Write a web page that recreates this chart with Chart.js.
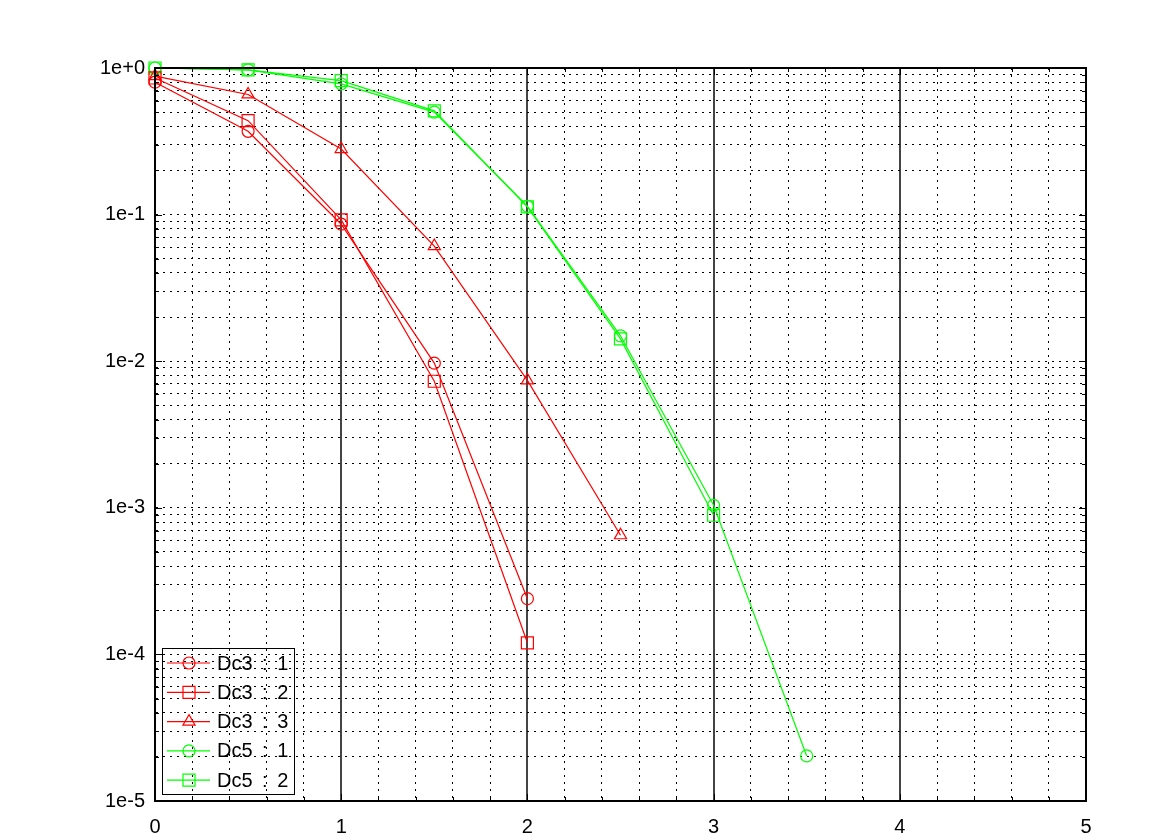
<!DOCTYPE html>
<html>
<head>
<meta charset="utf-8">
<script src="https://cdn.jsdelivr.net/npm/chart.js@4"></script>
<style>
  html, body { margin: 0; padding: 0; background: #fff; }
  #wrap { width: 1175px; height: 835px; }
</style>
</head>
<body>
<div id="wrap"><canvas id="ber"></canvas></div>
<script>
// series values
const xDc3 = [0, 0.5, 1, 1.5, 2];
const xDc3b = [0, 0.5, 1, 1.5, 2, 2.5];
const xDc5a = [0, 0.5, 1, 1.5, 2, 2.5, 3, 3.5];
const xDc5b = [0, 0.5, 1, 1.5, 2, 2.5, 3];

const dc3_1 = [0.80, 0.37, 0.086, 0.0097, 2.4e-4];
const dc3_2 = [0.855, 0.437, 0.092, 0.0073, 1.2e-4];
const dc3_3 = [0.88, 0.66, 0.28, 0.061, 0.0074, 6.5e-4];
const dc5_1 = [1.0, 0.97, 0.78, 0.50, 0.114, 0.0149, 1.04e-3, 2.03e-5];
const dc5_2 = [1.0, 0.97, 0.82, 0.51, 0.113, 0.0142, 8.9e-4];

const seriesNames = ['Dc3 : 1', 'Dc3 : 2', 'Dc3 : 3', 'Dc5 : 1', 'Dc5 : 2'];
const xTickLabels = ['0', '1', '2', '3', '4', '5'];
const yTickLabels = ['1e-5', '1e-4', '1e-3', '1e-2', '1e-1', '1e+0'];

const RED = 'rgb(255,0,0)';
const GREEN = 'rgb(0,255,0)';
const FONT = '"Liberation Sans", Arial, sans-serif';

function pts(xs, ys) {
  return xs.map((x, i) => ({ x: x, y: ys[i] }));
}

function ds(label, xs, ys, color, style, r) {
  return {
    label: label,
    data: pts(xs, ys),
    borderColor: color,
    borderWidth: 1.2,
    pointStyle: style,
    pointRadius: r,
    pointBorderColor: color,
    pointBackgroundColor: 'rgba(0,0,0,0)',
    pointBorderWidth: 1.2,
    tension: 0,
    fill: false,
    clip: false
  };
}

const isMajorX = v => Math.abs(v - Math.round(v)) < 1e-6;
const isDecade = v => Math.abs(Math.log10(v) - Math.round(Math.log10(v))) < 1e-6;

// draws the box round the plot, the small inward ticks and the legend
const framePlugin = {
  id: 'frame',
  afterDatasetsDraw(chart) {
    const { ctx, chartArea: a, scales } = chart;
    ctx.save();
    ctx.strokeStyle = '#000';
    ctx.lineWidth = 1;
    ctx.setLineDash([]);
    scales.y.ticks.forEach(t => {
      const py = Math.round(scales.y.getPixelForValue(t.value)) + 0.5;
      const len = isDecade(t.value) ? 7 : 4;
      ctx.beginPath();
      ctx.moveTo(a.left, py); ctx.lineTo(a.left + len, py);
      ctx.moveTo(a.right, py); ctx.lineTo(a.right - len, py);
      ctx.stroke();
    });
    scales.x.ticks.forEach(t => {
      const px = Math.round(scales.x.getPixelForValue(t.value)) + 0.5;
      const len = isMajorX(t.value) ? 7 : 4;
      ctx.beginPath();
      ctx.moveTo(px, a.bottom); ctx.lineTo(px, a.bottom - len);
      ctx.moveTo(px, a.top); ctx.lineTo(px, a.top + len);
      ctx.stroke();
    });
    ctx.lineWidth = 2;
    ctx.strokeRect(a.left, a.top, a.right - a.left, a.bottom - a.top);

    // legend box in the lower left corner
    const bx = a.left + 7, by = a.bottom - 153, bw = 132, bh = 146;
    ctx.lineWidth = 1;
    ctx.strokeRect(bx + 0.5, by + 0.5, bw, bh);
    ctx.font = '20px ' + FONT;
    ctx.textBaseline = 'middle';
    if ('wordSpacing' in ctx) ctx.wordSpacing = '4px';
    chart.data.datasets.forEach((d, i) => {
      const cy = by + 15 + i * 29.3;
      ctx.strokeStyle = d.borderColor;
      ctx.lineWidth = 1.2;
      ctx.beginPath();
      ctx.moveTo(bx + 5, cy); ctx.lineTo(bx + 48, cy);
      ctx.stroke();
      ctx.fillStyle = 'rgba(0,0,0,0)';
      Chart.helpers.drawPoint(ctx, {
        pointStyle: d.pointStyle, radius: d.pointRadius, borderWidth: 1.2, rotation: 0
      }, bx + 27, cy);
      ctx.fillStyle = '#000';
      ctx.fillText(d.label, bx + 55, cy + 1);
    });
    ctx.restore();
  }
};

new Chart(document.getElementById('ber'), {
  type: 'line',
  data: {
    datasets: [
      ds(seriesNames[0], xDc3, dc3_1, RED, 'circle', 6),
      ds(seriesNames[1], xDc3, dc3_2, RED, 'rect', 8.5),
      ds(seriesNames[2], xDc3b, dc3_3, RED, 'triangle', 7),
      ds(seriesNames[3], xDc5a, dc5_1, GREEN, 'circle', 6),
      ds(seriesNames[4], xDc5b, dc5_2, GREEN, 'rect', 8.5)
    ]
  },
  options: {
    responsive: true,
    maintainAspectRatio: false,
    animation: false,
    layout: { padding: { top: 68, right: 89, left: 0, bottom: 0 } },
    plugins: { legend: { display: false }, tooltip: { enabled: false } },
    scales: {
      x: {
        type: 'linear',
        min: 0,
        max: 5,
        afterBuildTicks(scale) {
          const t = [];
          for (let i = 0; i <= 25; i++) t.push({ value: i / 5 });
          scale.ticks = t;
        },
        afterFit(scale) { scale.height = 34; },
        ticks: {
          autoSkip: false,
          maxRotation: 0,
          padding: 14,
          color: '#000',
          font: { family: FONT, size: 20 },
          callback: v => isMajorX(v) ? xTickLabels[Math.round(v)] : ''
        },
        grid: {
          drawTicks: false,
          color: ctx => ctx.tick && isMajorX(ctx.tick.value) ? '#444' : '#000',
          lineWidth: ctx => ctx.tick && isMajorX(ctx.tick.value) ? 2 : 1
        },
        border: {
          color: '#000',
          width: 2,
          dash: ctx => (ctx.tick && !isMajorX(ctx.tick.value)) ? [2, 5] : []
        }
      },
      y: {
        type: 'logarithmic',
        min: 1e-5,
        max: 1,
        afterBuildTicks(scale) {
          const t = [];
          for (let e = -5; e <= 0; e++) {
            for (let m = 1; m <= 9; m++) {
              const v = m * Math.pow(10, e);
              if (v <= 1.0000001) t.push({ value: v });
            }
          }
          scale.ticks = t;
        },
        afterFit(scale) { scale.width = 155; },
        ticks: {
          autoSkip: false,
          padding: 10,
          color: '#000',
          font: { family: FONT, size: 20 },
          callback: v => isDecade(v) ? yTickLabels[Math.round(Math.log10(v)) + 5] : ''
        },
        grid: {
          drawTicks: false,
          color: '#000',
          lineWidth: 1
        },
        border: {
          color: '#000',
          width: 2,
          dash: ctx => ctx.tick ? [2, 5] : []
        }
      }
    }
  },
  plugins: [framePlugin]
});
</script>
</body>
</html>
